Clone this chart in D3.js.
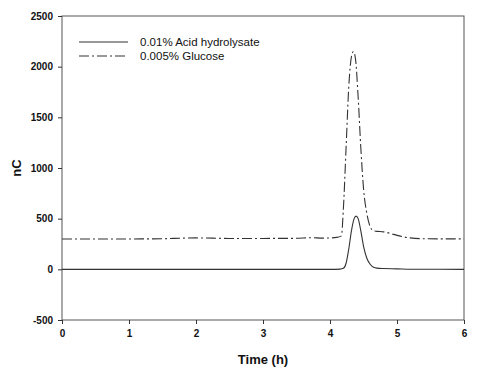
<!DOCTYPE html>
<html>
<head>
<meta charset="utf-8">
<script src="https://cdn.jsdelivr.net/npm/d3@7"></script>
<style>
  body { margin: 0; background: #fff; }
  text { font-family: Arial, "Liberation Sans", sans-serif; }
</style>
</head>
<body>
<div id="chart"></div>
<script>
// series data (time in h, response in nC)
const glucoseTime = [0, 0.5, 1, 1.5, 1.8, 2, 2.5, 3, 3.5, 3.7, 3.9, 4.1, 4.17, 4.2, 4.24, 4.28, 4.32, 4.35, 4.38, 4.42, 4.46, 4.5, 4.55, 4.6, 4.65, 4.7, 4.8, 4.9, 5.0, 5.2, 5.4, 6]
const glucoseValue = [300, 300, 300, 302, 308, 310, 305, 305, 306, 312, 308, 315, 330, 600, 1200, 1800, 2100, 2150, 2080, 1700, 1200, 800, 550, 420, 380, 375, 370, 355, 335, 310, 302, 300]
const acidTime = [0, 1, 2, 3, 4, 4.15, 4.2, 4.24, 4.28, 4.32, 4.36, 4.39, 4.42, 4.46, 4.5, 4.55, 4.6, 4.65, 4.7, 4.8, 5.0, 5.2, 6]
const acidValue = [0, 0, 0, 0, 0, 2, 10, 60, 200, 380, 500, 525, 500, 380, 230, 110, 50, 20, 12, 8, 5, 1, 0]
const xTicks = [0, 1, 2, 3, 4, 5, 6]
const yTicks = [-500, 0, 500, 1000, 1500, 2000, 2500]
const legendLabels = ['0.01% Acid hydrolysate', '0.005% Glucose']

const width = 497, height = 375
const margin = { top: 16, right: 33, bottom: 55, left: 62 }
const plotW = width - margin.left - margin.right
const plotH = height - margin.top - margin.bottom
const ink = '#333'

const svg = d3.select('#chart').append('svg')
  .attr('width', width).attr('height', height)

const g = svg.append('g').attr('transform', `translate(${margin.left},${margin.top})`)

const x = d3.scaleLinear().domain([0, 6]).range([0, plotW])
const y = d3.scaleLinear().domain([-500, 2500]).range([plotH, 0])

// frame
g.append('rect')
  .attr('width', plotW).attr('height', plotH)
  .attr('fill', 'none').attr('stroke', '#555').attr('stroke-width', 1)

// plain hyphen for negatives, like the original
const plain = d => String(d)

const xAxis = g.append('g').attr('transform', `translate(0,${plotH})`)
  .call(d3.axisBottom(x).tickValues(xTicks).tickSize(4).tickPadding(6).tickFormat(plain))
const yAxis = g.append('g')
  .call(d3.axisLeft(y).tickValues(yTicks).tickSize(4).tickPadding(5).tickFormat(plain))

;[xAxis, yAxis].forEach(a => {
  a.select('.domain').remove()
  a.selectAll('.tick line').attr('stroke', ink)
  a.selectAll('.tick text')
    .attr('font-family', 'Arial, "Liberation Sans", sans-serif')
    .attr('font-size', 10).attr('font-weight', 'bold').attr('fill', '#111')
})

const line = d3.line().x(d => x(d[0])).y(d => y(d[1])).curve(d3.curveMonotoneX)

const acid = d3.zip(acidTime, acidValue)
const glucose = d3.zip(glucoseTime, glucoseValue)

const dashDot = '10,3,2,3'

g.append('path').datum(glucose)
  .attr('d', line).attr('fill', 'none')
  .attr('stroke', ink).attr('stroke-width', 1.1)
  .attr('stroke-dasharray', dashDot)

g.append('path').datum(acid)
  .attr('d', line).attr('fill', 'none')
  .attr('stroke', ink).attr('stroke-width', 1.1)

// legend
const legend = g.append('g').attr('transform', 'translate(17,26)')
legendLabels.forEach((label, i) => {
  const row = legend.append('g').attr('transform', `translate(0,${i * 14})`)
  row.append('line')
    .attr('x1', 0).attr('x2', 49).attr('y1', 0).attr('y2', 0)
    .attr('stroke', ink).attr('stroke-width', 1.1)
    .attr('stroke-dasharray', i === 1 ? dashDot : null)
  row.append('text')
    .attr('x', 61).attr('y', 4)
    .attr('font-size', 11.5).attr('fill', '#111')
    .text(label)
})

// axis titles
svg.append('text')
  .attr('x', margin.left + plotW / 2).attr('y', 364)
  .attr('text-anchor', 'middle')
  .attr('font-size', 13).attr('font-weight', 'bold').attr('fill', '#111')
  .text('Time (h)')

svg.append('text')
  .attr('transform', `translate(21,${margin.top + y(1000)}) rotate(-90)`)
  .attr('text-anchor', 'middle')
  .attr('font-size', 13).attr('font-weight', 'bold').attr('fill', '#111')
  .text('nC')
</script>
</body>
</html>
